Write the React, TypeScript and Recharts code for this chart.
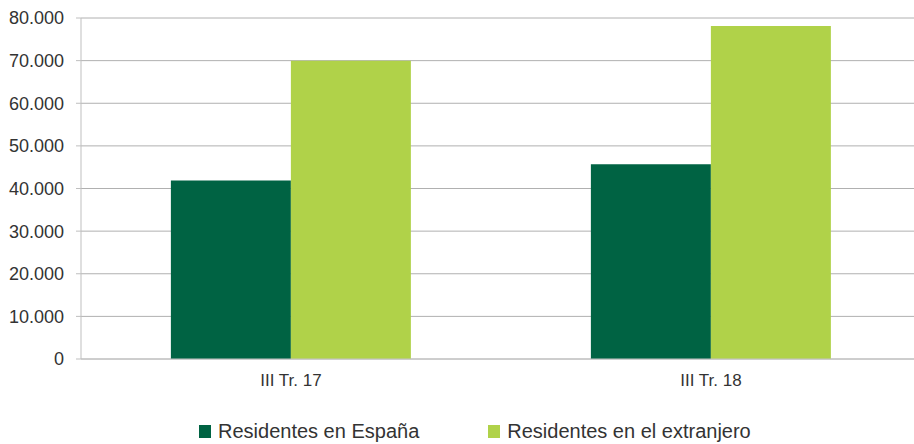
import React from "react";
import { BarChart, Bar, XAxis, YAxis, CartesianGrid, Legend } from "recharts";

const categories = ["III Tr. 17", "III Tr. 18"];
const residentesEspana = [41900, 45700];
const residentesExtranjero = [70000, 78100];
const yTicks = [0, 10000, 20000, 30000, 40000, 50000, 60000, 70000, 80000];

const seriesNames = ["Residentes en España", "Residentes en el extranjero"];
const seriesColors = ["#006343", "#B0D249"];

const data = categories.map((c, i) => ({
  name: c,
  espana: residentesEspana[i],
  extranjero: residentesExtranjero[i],
}));

const fmt = (v: number) => v.toLocaleString("de-DE");

const FONT = '"Liberation Sans", Arial, Helvetica, sans-serif';

const LegendContent = () => (
  <div style={{ display: "flex", alignItems: "center", height: 26, paddingLeft: 199, fontFamily: FONT, fontSize: 20, color: "#333" }}>
    {seriesNames.map((n, i) => (
      <div key={n} style={{ display: "flex", alignItems: "center", marginRight: i === 0 ? 69 : 0 }}>
        <span style={{ display: "inline-block", width: 12, height: 13, background: seriesColors[i], marginRight: 7 }} />
        <span>{n}</span>
      </div>
    ))}
  </div>
);

export default function App() {
  return (
    <div style={{ position: "absolute", left: 0, top: 0, width: 914, height: 444, overflow: "hidden", background: "#fff" }}>
      <BarChart
        width={922}
        height={444}
        data={data}
        margin={{ top: 18, right: 1, bottom: 0, left: 0 }}
        barGap={0}
        barCategoryGap="21.4%"
      >
        <CartesianGrid vertical={false} stroke="#b0b0b0" />
        <XAxis
          dataKey="name"
          height={59}
          tickLine={false}
          tickSize={0}
          tickMargin={15}
          axisLine={{ stroke: "#c4c4c4" }}
          tick={{ fill: "#333", fontSize: 17, fontFamily: FONT }}
          interval={0}
        />
        <YAxis
          width={81}
          domain={[0, 80000]}
          ticks={yTicks}
          tickFormatter={fmt}
          tickSize={5}
          tickMargin={12}
          tickLine={{ stroke: "#bfbfbf" }}
          axisLine={{ stroke: "#bfbfbf" }}
          tick={{ fill: "#333", fontSize: 18, fontFamily: FONT }}
          interval={0}
        />
        <Legend verticalAlign="bottom" content={<LegendContent />} height={26} />
        <Bar dataKey="espana" name={seriesNames[0]} fill={seriesColors[0]} isAnimationActive={false} />
        <Bar dataKey="extranjero" name={seriesNames[1]} fill={seriesColors[1]} isAnimationActive={false} />
      </BarChart>
    </div>
  );
}
